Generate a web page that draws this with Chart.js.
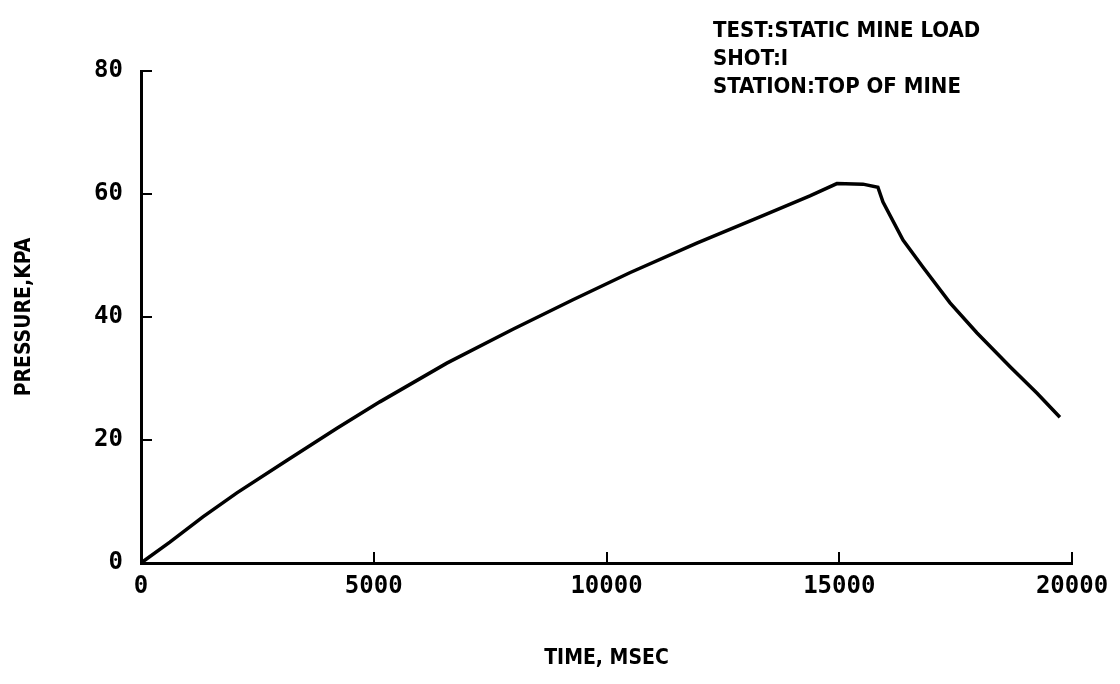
<!DOCTYPE html>
<html>
<head>
<meta charset="utf-8">
<script src="https://cdn.jsdelivr.net/npm/chart.js@4"></script>
<style>
  html, body { margin: 0; padding: 0; background: #fff; }
  #wrap { width: 1120px; height: 684px; position: relative; }
</style>
</head>
<body>
<div id="wrap"><canvas id="pressure"></canvas></div>
<script>
// values
const timeMs = [0, 620, 1330, 2060, 3140, 4210, 5130, 6570, 7990, 9280, 10500,
  11940, 13360, 14370, 14950, 15510, 15830, 15940, 16370, 16800, 17380,
  17960, 18670, 19250, 19740];
const pressureKpa = [0, 3.4, 7.5, 11.4, 16.7, 21.9, 26.2, 32.5, 38.0, 42.8, 47.2,
  52.0, 56.5, 59.7, 61.7, 61.6, 61.1, 58.7, 52.5, 48.1, 42.3,
  37.4, 31.9, 27.6, 23.7];
const xTicks = [0, 5000, 10000, 15000, 20000];
const yTicks = [0, 20, 40, 60, 80];
const infoLines = ["TEST:STATIC MINE LOAD", "SHOT:I", "STATION:TOP OF MINE"];

const tickFont = { family: "DejaVu Sans Mono", size: 24, weight: "bold" };
const labelFont = { family: "DejaVu Sans Condensed", size: 21, weight: "bold" };

// header text in the top right corner
const infoText = {
  id: "infoText",
  afterDraw(chart) {
    const ctx = chart.ctx;
    ctx.save();
    ctx.fillStyle = "#000";
    ctx.font = "bold 22px 'DejaVu Sans Condensed'";
    ctx.textBaseline = "alphabetic";
    ctx.textAlign = "left";
    infoLines.forEach((line, i) => {
      ctx.fillText(line, 713, 37 + i * 28);
    });
    ctx.restore();
  },
};

const data = timeMs.map((t, i) => ({ x: t, y: pressureKpa[i] }));

new Chart(document.getElementById("pressure"), {
  type: "line",
  data: {
    datasets: [
      {
        data: data,
        borderColor: "#000",
        borderWidth: 3.5,
        pointRadius: 0,
        tension: 0,
        fill: false,
      },
    ],
  },
  options: {
    responsive: true,
    maintainAspectRatio: false,
    animation: false,
    layout: { padding: { top: 71, right: 48, left: 0, bottom: 0 } },
    plugins: {
      legend: { display: false },
      tooltip: { enabled: false },
    },
    scales: {
      x: {
        type: "linear",
        min: 0,
        max: 20000,
        afterBuildTicks: (s) => { s.ticks = xTicks.map((v) => ({ value: v })); },
        afterFit: (s) => {
          s.height = 121;
          s.paddingLeft = 0;
          s.paddingRight = 0;
        },
        border: { display: true, color: "#000", width: 3 },
        grid: { drawOnChartArea: false, drawTicks: true, tickLength: -11, color: "#000", lineWidth: 2 },
        ticks: { color: "#000", font: tickFont, padding: 20, maxRotation: 0, callback: (v) => String(v) },
        title: { display: true, text: "TIME, MSEC", color: "#000", font: labelFont, padding: { top: 0, bottom: 13 } },
      },
      y: {
        min: 0,
        max: 80,
        afterBuildTicks: (s) => { s.ticks = yTicks.map((v) => ({ value: v })); },
        afterFit: (s) => { s.width = 141; },
        border: { display: true, color: "#000", width: 3 },
        grid: { drawOnChartArea: false, drawTicks: true, tickLength: -11, color: "#000", lineWidth: 2 },
        ticks: { color: "#000", font: tickFont, padding: 29, callback: (v) => String(v) },
        title: { display: true, text: "PRESSURE,KPA", color: "#000", font: labelFont, padding: { top: 12, bottom: 0 } },
      },
    },
  },
  plugins: [infoText],
});
</script>
</body>
</html>
